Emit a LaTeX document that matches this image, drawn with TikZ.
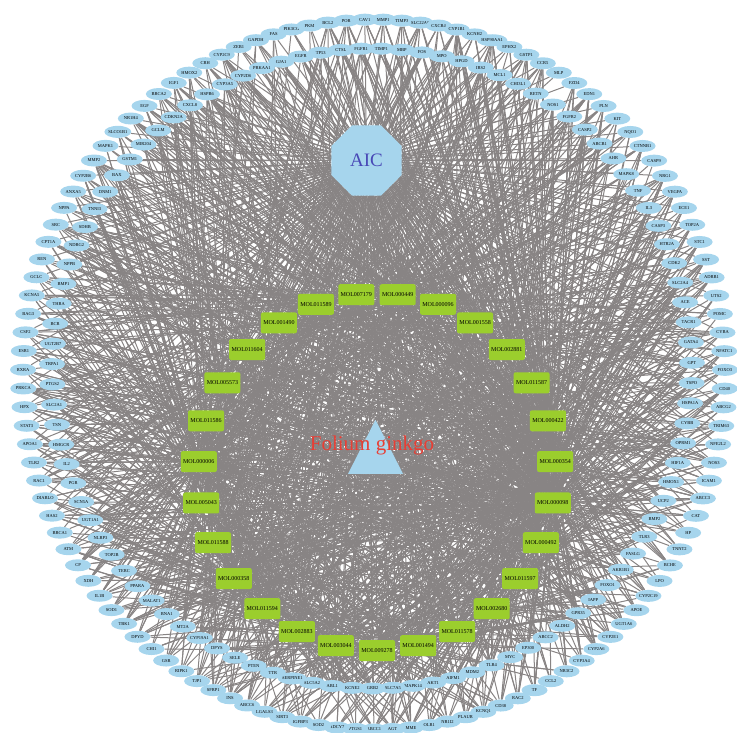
\documentclass[tikz,border=0pt]{standalone}
\usepackage{fontspec}
\setmainfont{Liberation Serif}
\usetikzlibrary{shapes.geometric}
\pgfdeclarelayer{bg}
\pgfsetlayers{bg,main}
\definecolor{nodeblue}{RGB}{166,213,237}
\definecolor{molgreen}{RGB}{155,206,45}
\definecolor{edgegray}{RGB}{136,132,132}
\definecolor{aicblue}{RGB}{72,72,182}
\definecolor{fgred}{RGB}{232,62,52}
\begin{document}
\begin{tikzpicture}[x=1pt,y=-1pt,
  gene/.style={ellipse,fill=nodeblue,minimum width=26pt,minimum height=12pt,inner sep=0pt,font=\fontsize{4.5}{5}\selectfont},
  mol/.style={rectangle,rounded corners=2pt,fill=molgreen,minimum width=36pt,minimum height=21pt,inner sep=0pt,font=\fontsize{6}{7}\selectfont},
  link/.style={draw=edgegray,line width=1pt}]
\useasboundingbox (0,0) rectangle (737,733);
% outer ring
\foreach \n [count=\k] in {CAV1,MMP1,TIMP3,SLC22A6,CXCR4,CYP1B1,KCNH2,HSP90AA1,EPHX2,GSTP1,CCR5,MLP,FZD4,EDN1,PLN,KIT,NQO1,CTNNB1,CASP9,NRG1,VEGFA,ECE1,TOP2A,STC1,SST,ADRB1,UTS2,POMC,CYBA,NFATC1,FOXO3,CD40,ABCG2,TRIM63,NFE2L2,NOS3,ICAM1,ABCC3,CAT,HP,TNNT2,BCHE,LPO,CYP2C19,APOE,UGT1A6,CYP2E1,CYP2A6,CYP3A4,NR3C2,CCL2,TF,RAC2,CD38,KCNQ1,PLAUR,NR1I2,OLR1,MME,AGT,ABCC1,PTGS1,ADCY7,SOD2,IGFBP3,SIRT3,LGALS3,ABCC6,INS,SFRP1,TJP1,RIPK1,GSR,CHI1,DPYD,TBK1,SOD1,IL1B,XDH,CP,ATM,BRCA1,HAS2,DIABLO,RAC1,TLR2,APOA1,STAT3,HPX,PRKCA,RXRA,ESR1,CSF2,BAG3,KCNA5,GCLC,REN,CPT1A,SRC,NPPA,ANXA5,CYP2B6,MMP2,MAPK1,SLCO1B1,NR1H4,EGF,BRCA2,IGF1,HMOX2,CRH,CYP2C9,ZEB1,GAPDH,FAS,PIK3CG,PKM,BCL2,POR}{
  \pgfmathsetmacro\a{91.5-(\k-1)*3.02521}
  \node[gene] (g\k) at ({374+351*cos(\a)},{374.5-355*sin(\a)}) {\n};
}
% inner ring
\foreach \n [count=\k from 120] in {TIMP1,MBP,FOS,MPO,HPGD,IRS2,MCL1,CHI3L1,RETN,NOS1,FGFR2,CASP2,ABCB1,AHR,MAPK8,TNF,IL3,CASP3,HTR2A,CDK2,SLC2A4,ACE,TACR1,GATA4,GPT,TSPO,HSPA1A,CYBB,OPRM1,HIF1A,HMOX1,UCP2,BMP2,TLR3,FASLG,AKR1B1,FOXO1,IAPP,GPR35,ALDH2,ABCC2,EP300,MYC,TLR4,MDM2,AIFM1,AKT1,MAPK14,SLC7A5,GRB2,KCNE2,ABL1,SLC5A2,SERPINE1,TTR,PTEN,SELE,DPYS,CYP19A1,MT2A,BNA1,MALAT1,PPARA,TERC,TOP2B,NLRP3,UGT1A1,SCN5A,PGR,IL2,HMGCR,TSN,SLC2A1,PTGS2,TRPA1,UGT2B7,BCR,THRA,BMP1,NPPB,NDRG2,SDHB,TNNI3,DNM1,BAX,GSTM1,MIR204,GCLM,CDKN2A,CXCL8,HSPB6,CYP3A5,CYP2D6,PRKAA1,GJA1,EGFR,TP53,CTSL,FGFR1}{
  \pgfmathsetmacro\a{88.3-(\k-120)*3.63636}
  \node[gene] (g\k) at ({372+320*cos(\a)},{368.5-320*sin(\a)}) {\n};
}
% compounds
\foreach \n [count=\j] in {MOL000449,MOL000096,MOL001558,MOL002881,MOL011587,MOL000422,MOL000354,MOL000098,MOL000492,MOL011597,MOL002680,MOL011578,MOL001494,MOL009278,MOL003044,MOL002883,MOL011594,MOL000358,MOL011588,MOL005043,MOL000006,MOL011586,MOL005573,MOL011604,MOL001490,MOL011589,MOL007179}{
  \pgfmathsetmacro\a{83.3333-(\j-1)*13.33333}
  \node[mol] (m\j) at ({377+178.5*cos(\a)},{472-178.5*sin(\a)}) {\n};
}
% AIC
\node[regular polygon,regular polygon sides=8,minimum size=76pt,inner sep=0pt,fill=nodeblue,text=aicblue,font=\fontsize{19}{19}\selectfont] (aic) at (366.5,160.5) {AIC};
% herb
\node[isosceles triangle,shape border rotate=90,isosceles triangle stretches,minimum width=55pt,minimum height=54pt,inner sep=0pt,fill=nodeblue,anchor=south] (tri) at (375.5,474) {};
\node[text=fgred,font=\fontsize{21}{21}\selectfont,inner sep=0pt] (fg) at (372,445) {Folium ginkgo};
% edges
\begin{pgfonlayer}{bg}
\foreach \k in {1,...,218} \draw[link] (aic) -- (g\k);
\foreach \j in {1,...,27} \draw[link] (tri) -- (m\j);
\pgfmathsetseed{7}
\foreach \j/\c in {1/70,2/40,3/35,4/40,5/40,6/150,7/110,8/240,9/55,10/40,11/40,12/35,13/40,14/35,15/40,16/35,17/35,18/80,19/35,20/40,21/140,22/40,23/55,24/35,25/40,26/35,27/40}{
  \foreach \t in {1,...,\c}{
    \pgfmathrandominteger{\r}{1}{218}
    \draw[link] (m\j) -- (g\r);
  }
}
\end{pgfonlayer}
\end{tikzpicture}
\end{document}
